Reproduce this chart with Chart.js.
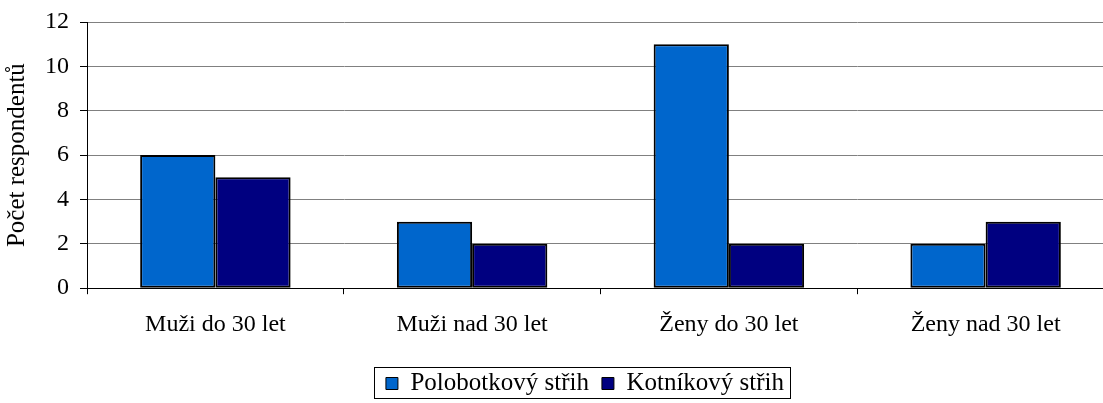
<!DOCTYPE html>
<html>
<head>
<meta charset="utf-8">
<script src="https://cdn.jsdelivr.net/npm/chart.js@4.4.1/dist/chart.umd.min.js"></script>
<style>
  html, body { margin: 0; padding: 0; background: #fff; overflow: hidden; }
  #wrap { width: 1114px; height: 403px; }
</style>
</head>
<body>
<div id="wrap"><canvas id="barChart"></canvas></div>
<script>
const categories = ['Muži do 30 let', 'Muži nad 30 let', 'Ženy do 30 let', 'Ženy nad 30 let'];
const polobotkovy = [6, 3, 11, 2];
const kotnikovy = [5, 2, 2, 3];
const seriesNames = ['Polobotkový střih', 'Kotníkový střih'];
const yTicks = [0, 2, 4, 6, 8, 10, 12];

const serif = 'Liberation Serif, Times New Roman, serif';

// box round the legend items only, like the spreadsheet one
const legendBox = {
  id: 'legendBox',
  afterLayout(chart) {
    // legend sits a bit right of the canvas centre in the original
    const l = chart.legend;
    l.left += 27;
    l.right += 27;
    l.top += 3;
    l.bottom += 3;
  },
  afterDraw(chart) {
    const boxes = chart.legend.legendHitBoxes;
    if (!boxes || !boxes.length) return;
    const left = Math.min(...boxes.map(b => b.left)) - 12;
    const right = Math.max(...boxes.map(b => b.left + b.width)) + 6;
    const mid = boxes[0].top + boxes[0].height / 2;
    const ctx = chart.ctx;
    ctx.save();
    ctx.strokeStyle = '#000';
    ctx.lineWidth = 1;
    ctx.strokeRect(Math.round(left) + 0.5, Math.round(mid - 17) + 0.5, Math.round(right - left), 31);
    ctx.restore();
  }
};

new Chart(document.getElementById('barChart'), {
  type: 'bar',
  data: {
    labels: categories,
    datasets: [
      {
        label: seriesNames[0],
        data: polobotkovy,
        backgroundColor: '#0066CC',
        borderColor: '#000',
        borderWidth: 2,
        borderSkipped: false
      },
      {
        label: seriesNames[1],
        data: kotnikovy,
        backgroundColor: '#000080',
        borderColor: '#000',
        borderWidth: 2,
        borderSkipped: false
      }
    ]
  },
  options: {
    responsive: true,
    maintainAspectRatio: false,
    animation: false,
    layout: { padding: { top: 2, left: 2, right: 0, bottom: 0 } },
    categoryPercentage: 0.586,
    barPercentage: 1,
    plugins: {
      tooltip: { enabled: false },
      legend: {
        position: 'bottom',
        labels: {
          color: '#000',
          font: { family: serif, size: 25 },
          boxWidth: 12,
          boxHeight: 12,
          padding: 13,
          generateLabels(chart) {
            return chart.data.datasets.map((ds, i) => ({
              text: ds.label,
              fillStyle: ds.backgroundColor,
              strokeStyle: '#000',
              lineWidth: 1,
              datasetIndex: i
            }));
          }
        }
      }
    },
    scales: {
      x: {
        grid: {
          display: true,
          drawOnChartArea: false,
          color: '#000',
          tickLength: 6,
          offset: true
        },
        border: { color: '#000', width: 1 },
        ticks: {
          color: '#000',
          font: { family: serif, size: 24 },
          padding: 16
        }
      },
      y: {
        min: 0,
        max: 12,
        afterBuildTicks(axis) {
          axis.ticks = yTicks.map(v => ({ value: v }));
        },
        grid: {
          color: '#808080',
          tickColor: '#000',
          tickLength: 7
        },
        border: { color: '#000', width: 1 },
        ticks: {
          color: '#000',
          font: { family: serif, size: 24, lineHeight: 0.92 },
          padding: 11
        },
        title: {
          display: true,
          text: 'Počet respondentů',
          color: '#000',
          font: { family: serif, size: 25 },
          padding: { top: 0, bottom: 2 }
        }
      }
    }
  },
  plugins: [legendBox]
});
</script>
</body>
</html>
